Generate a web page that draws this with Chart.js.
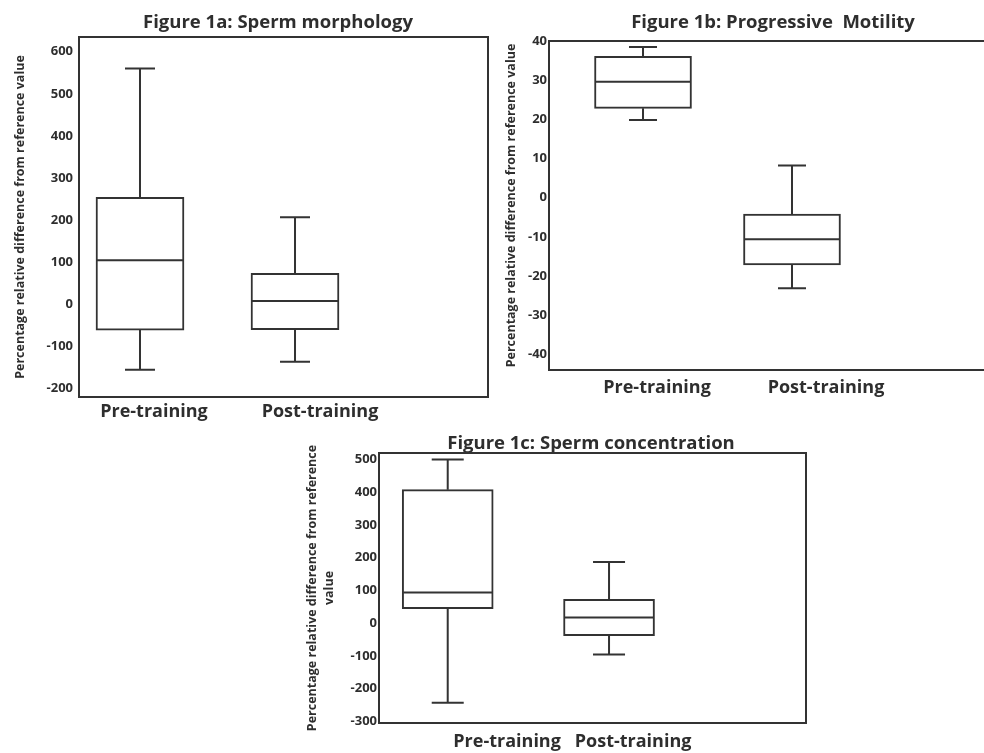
<!DOCTYPE html>
<html>
<head>
<meta charset="utf-8">
<script src="https://cdn.jsdelivr.net/npm/chart.js@4.4.1/dist/chart.umd.min.js"></script>
<style>
  html, body { margin: 0; padding: 0; background: #fff; overflow: hidden; width: 984px; height: 753px; }
  canvas { position: absolute; }
</style>
</head>
<body>
<canvas id="c1" width="556" height="425" style="left:0px;top:0px;width:556px;height:425px"></canvas>
<canvas id="c2" width="566" height="410" style="left:490px;top:0px;width:566px;height:410px"></canvas>
<canvas id="c3" width="642" height="333" style="left:270px;top:420px;width:642px;height:333px"></canvas>
<script>
// ---------- data ----------
const categories = ['Pre-training', 'Post-training'];
// each box: [min, Q1, median, Q3, max]
const morphologyPre  = [-155, -61, 105, 254, 560];
const morphologyPost = [-136, -60, 8, 74, 207];
const motilityPre  = [19.8, 22.8, 29.6, 36.1, 38.5];
const motilityPost = [-23.1, -17.2, -10.6, -4.2, 8.2];
const concentrationPre  = [-243, 44, 94, 408, 500];
const concentrationPost = [-96, -38, 17, 73, 187];
const morphologyTicks    = [-200, -100, 0, 100, 200, 300, 400, 500, 600];
const motilityTicks      = [-40, -30, -20, -10, 0, 10, 20, 30, 40];
const concentrationTicks = [-300, -200, -100, 0, 100, 200, 300, 400, 500];
const yTitleOne = 'Percentage relative difference from reference value';
const yTitleTwo = ['Percentage relative difference from reference', 'value'];

// ---------- style ----------
const LINE = '#333333';
const TEXT = '#2e2e2e';
const FAMILY = "'Open Sans', sans-serif";
Chart.defaults.font.family = FAMILY;

const boxPlugin = {
  id: 'boxWhiskers',
  afterDatasetsDraw(chart, args, opts) {
    const { ctx, chartArea, scales: { x, y } } = chart;
    const meta = chart.getDatasetMeta(0);
    ctx.save();
    ctx.strokeStyle = LINE;
    ctx.lineWidth = 2;
    chart.data.datasets[0].data.forEach((d, i) => {
      const s = d.stats;
      const el = meta.data[i];
      const cx = x.getPixelForValue(d.x);
      const half = el.width / 2;
      const cap = opts.capPx / 2;
      const pMin = y.getPixelForValue(s[0]);
      const pQ1 = y.getPixelForValue(s[1]);
      const pMed = y.getPixelForValue(s[2]);
      const pQ3 = y.getPixelForValue(s[3]);
      const pMax = y.getPixelForValue(s[4]);
      ctx.beginPath();
      ctx.moveTo(cx, pQ3); ctx.lineTo(cx, pMax);
      ctx.moveTo(cx - cap, pMax); ctx.lineTo(cx + cap, pMax);
      ctx.moveTo(cx, pQ1); ctx.lineTo(cx, pMin);
      ctx.moveTo(cx - cap, pMin); ctx.lineTo(cx + cap, pMin);
      ctx.moveTo(cx - half + 1, pMed); ctx.lineTo(cx + half - 1, pMed);
      ctx.stroke();
    });
    ctx.strokeRect(chartArea.left, chartArea.top, chartArea.right - chartArea.left, chartArea.bottom - chartArea.top);
    ctx.restore();
  }
};

function makeChart(id, L) {
  return new Chart(document.getElementById(id), {
    type: 'bar',
    data: {
      datasets: [{
        data: L.stats.map((s, i) => ({ x: i + 1, y: [s[1], s[3]], stats: s })),
        backgroundColor: '#ffffff',
        borderColor: LINE,
        borderWidth: 2,
        borderSkipped: false,
        barThickness: L.boxPx
      }]
    },
    plugins: [boxPlugin],
    options: {
      responsive: false,
      animation: false,
      events: [],
      layout: { padding: 0 },
      plugins: {
        legend: { display: false },
        tooltip: { enabled: false },
        title: {
          display: true,
          text: L.title,
          color: TEXT,
          font: { size: 18.5, weight: 'bold', family: FAMILY, lineHeight: 1.0 },
          padding: { top: L.titlePadTop, bottom: L.titlePadBottom }
        },
        boxWhiskers: { capPx: L.capPx }
      },
      scales: {
        x: {
          type: 'linear',
          min: L.xMin, max: L.xMax,
          offset: false,
          grid: { display: false, drawTicks: false },
          border: { display: false },
          afterBuildTicks: s => { s.ticks = L.labelPos.map(v => ({ value: v })); },
          afterFit: s => { s.height = L.hX; },
          ticks: {
            autoSkip: false, maxRotation: 0, minRotation: 0,
            padding: L.xTickPad,
            color: TEXT,
            font: { size: 18, weight: 'bold', family: FAMILY },
            callback: (v, i) => categories[i]
          }
        },
        y: {
          type: 'linear',
          min: L.yMin, max: L.yMax,
          grid: { display: false, drawTicks: false },
          border: { display: false },
          afterBuildTicks: s => { s.ticks = L.ticks.map(v => ({ value: v })); },
          afterFit: s => { s.width = L.yW; },
          ticks: {
            padding: L.tickPad,
            color: TEXT,
            font: { size: 13, weight: 'bold', family: FAMILY }
          },
          title: {
            display: true,
            text: L.yTitle,
            color: TEXT,
            font: { size: 12.5, weight: 'bold', family: FAMILY, lineHeight: 1.4 },
            padding: { top: L.yTitlePad, bottom: 0 }
          }
        },
        spacer: {
          type: 'linear',
          axis: 'y',
          position: 'right',
          display: true,
          grid: { display: false, drawTicks: false },
          border: { display: false },
          ticks: { display: false },
          afterFit: s => { s.width = L.rW; }
        }
      }
    }
  });
}

makeChart('c1', {
  title: 'Figure 1a: Sperm morphology',
  yTitle: yTitleOne,
  stats: [morphologyPre, morphologyPost],
  ticks: morphologyTicks,
  yMin: -220, yMax: 635,
  xMin: 0.6065, xMax: 3.245,
  labelPos: [1.09, 2.161],
  yW: 79, rW: 68, hX: 28,
  titlePadTop: 13.75, titlePadBottom: 4.75,
  yTitlePad: 11.25, tickPad: 6, xTickPad: 4,
  boxPx: 88, capPx: 30
});

makeChart('c2', {
  title: 'Figure 1b: Progressive  Motility',
  yTitle: yTitleOne,
  stats: [motilityPre, motilityPost],
  ticks: motilityTicks,
  yMin: -44, yMax: 40,
  xMin: 0.369, xMax: 3.329,
  labelPos: [1.094, 2.228],
  yW: 59, rW: 66, hX: 40,
  titlePadTop: 13.75, titlePadBottom: 8.75,
  yTitlePad: 13, tickPad: 2, xTickPad: 7,
  boxPx: 97, capPx: 28
});

makeChart('c3', {
  title: 'Figure 1c: Sperm concentration',
  yTitle: yTitleTwo,
  stats: [concentrationPre, concentrationPost],
  ticks: concentrationTicks,
  yMin: -305, yMax: 520,
  xMin: 0.574, xMax: 3.221,
  labelPos: [1.368, 2.149],
  yW: 109, rW: 106, hX: 30,
  titlePadTop: 14.5, titlePadBottom: 0,
  yTitlePad: 33.25, tickPad: 2, xTickPad: 8,
  boxPx: 91, capPx: 32
});
</script>
</body>
</html>
